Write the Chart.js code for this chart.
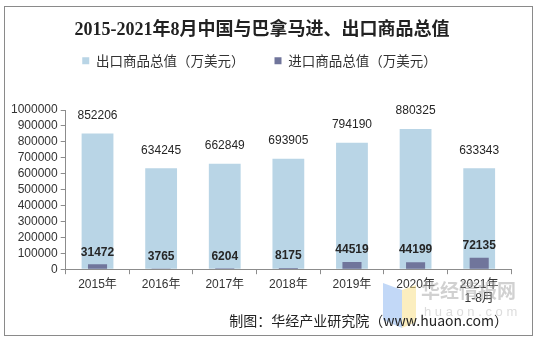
<!DOCTYPE html>
<html>
<head>
<meta charset="utf-8">
<script src="https://cdn.jsdelivr.net/npm/chart.js@4"></script>
<style>
  html, body { margin: 0; padding: 0; background: #fff; }
</style>
</head>
<body>
<canvas id="tradeChart" width="538" height="340"></canvas>
<script>
// Data
const categories = ['2015年', '2016年', '2017年', '2018年', '2019年', '2020年', ['2021年', '1-8月']];
const exportValues = [852206, 634245, 662849, 693905, 794190, 880325, 633343];
const importValues = [31472, 3765, 6204, 8175, 44519, 44199, 72135];
const yMax = 1000000;
const yStep = 100000;

const titleText = '2015-2021年8月中国与巴拿马进、出口商品总值';
const exportLabel = '出口商品总值（万美元）';
const importLabel = '进口商品总值（万美元）';
const footerText = '制图：华经产业研究院（www.huaon.com）';

const sans = '"Liberation Sans", "Noto Sans CJK SC", sans-serif';
const axisColor = '#8c8c8c';
const textColor = '#333';

// Title, value labels, footer, frame and watermark
const decor = {
    id: 'decor',
    beforeInit(chart) {
        const legend = chart.legend;
        if (!legend) return;
        const fit = legend.fit;
        legend.fit = function() {
            fit.call(this);
            this.height = 86;
        };
    },
    afterDatasetsDraw(chart) {
        const ctx = chart.ctx;
        ctx.save();
        ctx.textAlign = 'center';
        ctx.textBaseline = 'middle';
        ctx.fillStyle = '#262626';
        ctx.font = '12px ' + sans;
        chart.getDatasetMeta(0).data.forEach((bar, i) => {
            ctx.fillText(String(exportValues[i]), bar.x, bar.y - 18);
        });
        ctx.font = 'bold 12px ' + sans;
        chart.getDatasetMeta(1).data.forEach((bar, i) => {
            ctx.fillText(String(importValues[i]), bar.x, bar.y - 12);
        });
        ctx.restore();
    },
    afterDraw(chart) {
        const ctx = chart.ctx;
        ctx.save();
        // outer frame
        ctx.strokeStyle = '#8a8a8a';
        ctx.lineWidth = 1;
        ctx.strokeRect(4.5, 6.5, 528, 329);

        // title
        ctx.fillStyle = '#222';
        ctx.textAlign = 'center';
        ctx.textBaseline = 'middle';
        ctx.font = 'bold 18px "Liberation Serif", "Noto Sans CJK SC", serif';
        ctx.fillText(titleText, 262, 30);

        // watermark
        ctx.globalAlpha = 0.55;
        ctx.fillStyle = '#8fb8f0';
        ctx.beginPath();
        ctx.moveTo(383, 283); ctx.lineTo(402, 290); ctx.lineTo(402, 328); ctx.lineTo(383, 320);
        ctx.closePath(); ctx.fill();
        ctx.fillStyle = '#f7e08a';
        ctx.beginPath();
        ctx.moveTo(402, 290); ctx.lineTo(416, 285); ctx.lineTo(416, 322); ctx.lineTo(402, 328);
        ctx.closePath(); ctx.fill();
        ctx.globalAlpha = 0.45;
        ctx.fillStyle = '#9a9a9a';
        ctx.textAlign = 'left';
        ctx.font = 'bold 19px "Noto Sans CJK SC", sans-serif';
        ctx.fillText('华经情报网', 421, 291);
        ctx.globalAlpha = 0.35;
        ctx.font = '13px ' + sans;
        ctx.fillText('h u a o n . c o m', 424, 312);
        ctx.globalAlpha = 1;

        // footer
        ctx.fillStyle = '#222';
        ctx.textAlign = 'right';
        ctx.font = '14px "Noto Sans CJK SC", "Liberation Sans", sans-serif';
        ctx.fillText(footerText, 508, 321);
        ctx.restore();
    }
};

new Chart(document.getElementById('tradeChart'), {
    type: 'bar',
    data: {
        labels: categories,
        datasets: [
            {
                label: exportLabel,
                data: exportValues,
                backgroundColor: '#b9d5e6',
                grouped: false,
                categoryPercentage: 1,
                barPercentage: 0.5,
                order: 2
            },
            {
                label: importLabel,
                data: importValues,
                backgroundColor: '#70759b',
                grouped: false,
                categoryPercentage: 1,
                barPercentage: 0.3,
                order: 1
            }
        ]
    },
    options: {
        responsive: false,
        animation: false,
        events: [],
        layout: {
            padding: { left: 8, right: 27, top: 24, bottom: 31 }
        },
        plugins: {
            title: { display: false },
            tooltip: { enabled: false },
            legend: {
                position: 'top',
                align: 'center',
                labels: {
                    boxWidth: 7,
                    boxHeight: 7,
                    padding: 30,
                    color: textColor,
                    font: { size: 13.5, family: '"Noto Sans CJK SC", sans-serif' },
                    sort: (a, b) => a.datasetIndex - b.datasetIndex
                }
            }
        },
        scales: {
            x: {
                grid: {
                    display: true,
                    drawOnChartArea: false,
                    tickLength: 5,
                    color: axisColor
                },
                border: { display: true, color: axisColor },
                ticks: {
                    color: textColor,
                    font: { size: 12, family: sans },
                    padding: 3,
                    maxRotation: 0,
                    autoSkip: false
                }
            },
            y: {
                min: 0,
                max: yMax,
                grid: {
                    display: true,
                    drawOnChartArea: false,
                    tickLength: 5,
                    color: axisColor
                },
                border: { display: true, color: axisColor },
                ticks: {
                    stepSize: yStep,
                    autoSkip: false,
                    color: textColor,
                    font: { size: 12, family: sans },
                    padding: 3,
                    callback: v => String(v)
                }
            }
        }
    },
    plugins: [decor]
});
</script>
</body>
</html>
